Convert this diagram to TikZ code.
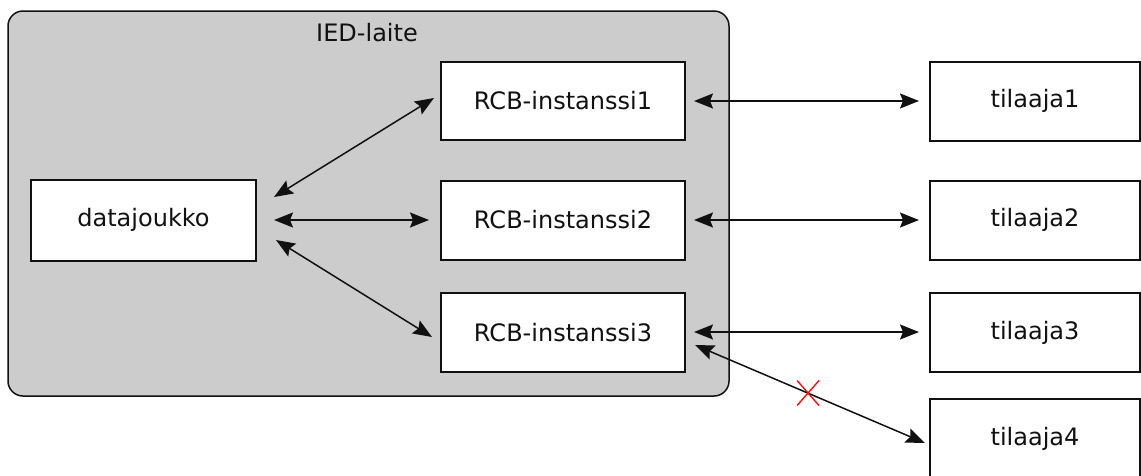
\documentclass[tikz,border=0pt]{standalone}
\usepackage{fontspec}
\setmainfont{DejaVu Sans}
\usetikzlibrary{arrows.meta,calc}
\definecolor{gfill}{HTML}{CCCCCC}
\definecolor{edge}{HTML}{111111}
\begin{document}
\begin{tikzpicture}[x=1pt,y=-1pt,
  box/.style={draw=edge, line width=2pt, fill=white, minimum width=244pt, minimum height=79pt, inner sep=0pt, text=edge, font=\fontsize{24}{28}\selectfont},
  lbl/.style={inner sep=0pt, text=edge, font=\fontsize{24}{28}\selectfont},
  link/.style={line width=1.5pt, draw=edge, {Stealth[length=19pt,width=15pt,inset=3pt]}-{Stealth[length=19pt,width=15pt,inset=3pt]}},
  cross/.style={draw=red, line width=1.3pt}]
\useasboundingbox (0,0) rectangle (1141,475);
\node[draw=edge, line width=1.5pt, fill=gfill, rounded corners=15pt, minimum width=721pt, minimum height=385pt, inner sep=0pt] (ied) at (368.5,203.5) {};
\node[lbl] (iedlabel) at (367,33) {IED-laite};
\node[box, minimum width=225pt, minimum height=81pt] (dj) at (143.5,220) {datajoukko};
\node[box, minimum height=78pt] (r1) at (563,101) {RCB-instanssi1};
\node[box] (r2) at (563,220) {RCB-instanssi2};
\node[box] (r3) at (563,332.5) {RCB-instanssi3};
\node[box, minimum width=210pt] (t1) at (1035,101) {tilaaja1};
\node[box, minimum width=210pt] (t2) at (1035,220) {tilaaja2};
\node[box, minimum width=210pt] (t3) at (1035,332.5) {tilaaja3};
\node[box, minimum width=210pt] (t4) at (1035,438.5) {tilaaja4};
% connectors
\draw[link] ($(dj.east)+(17,-23)$) -- ($(r1.west)+(-6,-3)$);
\draw[link] ($(dj.east)+(17,0)$) -- ($(r2.west)+(-11,0)$);
\draw[link] ($(dj.east)+(19,20)$) -- ($(r3.west)+(-8,4.5)$);
\draw[link] ($(r1.east)+(8,0)$) -- ($(t1.west)+(-10,0)$);
\draw[link] ($(r2.east)+(8,0)$) -- ($(t2.west)+(-10,0)$);
\draw[link] ($(r3.east)+(8,-0.5)$) -- ($(t3.west)+(-10,-0.5)$);
\draw[link] ($(r3.east)+(9,12.5)$) -- ($(t4.west)+(-4,4.5)$);
% red cross
\coordinate (xc) at (808,393);
\draw[cross] ($(xc)+(-11,-12.5)$) -- ($(xc)+(11,12.5)$);
\draw[cross] ($(xc)+(-11,12.5)$) -- ($(xc)+(11,-12.5)$);
\end{tikzpicture}
\end{document}
